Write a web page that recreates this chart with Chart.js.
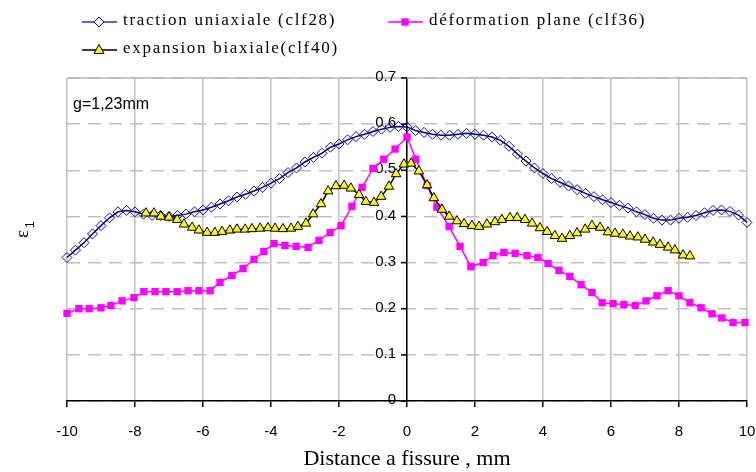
<!DOCTYPE html>
<html>
<head>
<meta charset="utf-8">
<script src="https://cdn.jsdelivr.net/npm/chart.js@4.4.0/dist/chart.umd.min.js"></script>
<style>
    html, body { margin: 0; padding: 0; background: #ffffff; }
    #wrap { width: 756px; height: 472px; }
</style>
</head>
<body>
<div id="wrap"><canvas id="strainChart" width="756" height="472"></canvas></div>
<script>
// Values (distance to crack in mm, major strain eps1)

// traction uniaxiale (clf28)
const tractionX = [-10, -9.75, -9.5, -9.25, -9, -8.75, -8.5, -8.25, -8, -7.75,
    -7.5, -7.25, -7, -6.75, -6.5, -6.25, -6, -5.75, -5.5, -5.25,
    -5, -4.75, -4.5, -4.25, -4, -3.75, -3.5, -3.25, -3, -2.75,
    -2.5, -2.25, -2, -1.75, -1.5, -1.25, -1, -0.75, -0.5, -0.25,
    0, 0.25, 0.5, 0.75, 1, 1.25, 1.5, 1.75, 2, 2.25,
    2.5, 2.75, 3, 3.25, 3.5, 3.75, 4, 4.25, 4.5, 4.75,
    5, 5.25, 5.5, 5.75, 6, 6.25, 6.5, 6.75, 7, 7.25,
    7.5, 7.75, 8, 8.25, 8.5, 8.75, 9, 9.25, 9.5, 9.75,
    10];
const tractionY = [0.311, 0.327, 0.343, 0.362, 0.38, 0.397, 0.41, 0.413, 0.41, 0.405,
    0.402, 0.402, 0.4, 0.402, 0.405, 0.41, 0.414, 0.42, 0.427, 0.434,
    0.442, 0.448, 0.455, 0.463, 0.472, 0.482, 0.495, 0.505, 0.518, 0.528,
    0.537, 0.55, 0.557, 0.566, 0.573, 0.578, 0.584, 0.589, 0.593, 0.595,
    0.594, 0.586, 0.582, 0.578, 0.576, 0.576, 0.578, 0.58, 0.578, 0.576,
    0.572, 0.565, 0.552, 0.535, 0.52, 0.505, 0.493, 0.482, 0.474, 0.466,
    0.458, 0.45, 0.443, 0.436, 0.43, 0.424, 0.418, 0.41, 0.404, 0.396,
    0.392, 0.392, 0.396, 0.398, 0.402, 0.408, 0.413, 0.414, 0.411, 0.403,
    0.387];

// déformation plane (clf36)
const planeX = [-10, -9.65, -9.35, -9, -8.71, -8.38, -8.03, -7.74, -7.41, -7.09,
    -6.76, -6.44, -6.12, -5.79, -5.5, -5.15, -4.82, -4.5, -4.21, -3.91,
    -3.59, -3.26, -2.91, -2.59, -2.26, -1.94, -1.62, -1.32, -1, -0.68,
    -0.35, 0, 0.26, 0.59, 0.88, 1.24, 1.56, 1.88, 2.24, 2.53,
    2.85, 3.18, 3.53, 3.85, 4.15, 4.47, 4.79, 5.12, 5.44, 5.74,
    6.06, 6.38, 6.71, 7.03, 7.35, 7.68, 8, 8.32, 8.65, 8.97,
    9.26, 9.59, 9.94];
const planeY = [0.19, 0.2, 0.2, 0.202, 0.207, 0.217, 0.224, 0.237, 0.237, 0.237,
    0.237, 0.239, 0.239, 0.239, 0.257, 0.272, 0.287, 0.307, 0.324, 0.341,
    0.337, 0.335, 0.333, 0.348, 0.365, 0.38, 0.422, 0.463, 0.504, 0.524,
    0.546, 0.572, 0.524, 0.467, 0.42, 0.378, 0.335, 0.291, 0.3, 0.315,
    0.322, 0.32, 0.315, 0.311, 0.298, 0.283, 0.27, 0.252, 0.235, 0.213,
    0.211, 0.209, 0.207, 0.217, 0.228, 0.239, 0.228, 0.213, 0.202, 0.189,
    0.18, 0.17, 0.17];

// expansion biaxiale (clf40)
const biaxialX = [-7.68, -7.44, -7.24, -7, -6.76, -6.56, -6.32, -6.12, -5.88, -5.65,
    -5.44, -5.21, -5, -4.76, -4.56, -4.32, -4.09, -3.88, -3.65, -3.41,
    -3.21, -2.97, -2.76, -2.53, -2.32, -2.09, -1.85, -1.65, -1.41, -1.21,
    -0.97, -0.76, -0.53, -0.32, -0.09, 0.12, 0.35, 0.59, 0.79, 1.03,
    1.24, 1.47, 1.68, 1.91, 2.12, 2.35, 2.59, 2.79, 3.03, 3.24,
    3.47, 3.68, 3.91, 4.12, 4.35, 4.56, 4.79, 5, 5.24, 5.44,
    5.68, 5.91, 6.12, 6.35, 6.56, 6.79, 7, 7.24, 7.44, 7.68,
    7.88, 8.12, 8.32];
const biaxialY = [0.407, 0.407, 0.4, 0.398, 0.393, 0.383, 0.376, 0.37, 0.365, 0.365,
    0.367, 0.37, 0.372, 0.372, 0.373, 0.374, 0.375, 0.374, 0.373, 0.374,
    0.378, 0.385, 0.405, 0.427, 0.455, 0.466, 0.467, 0.461, 0.447, 0.432,
    0.43, 0.443, 0.465, 0.492, 0.513, 0.515, 0.498, 0.468, 0.44, 0.415,
    0.4, 0.39, 0.384, 0.38, 0.378, 0.383, 0.388, 0.393, 0.397, 0.397,
    0.393, 0.385, 0.375, 0.367, 0.358, 0.352, 0.358, 0.364, 0.372, 0.38,
    0.376, 0.366, 0.363, 0.361, 0.357, 0.355, 0.35, 0.344, 0.339, 0.333,
    0.327, 0.316, 0.314];

const seriesNames = ['traction uniaxiale (clf28)', 'déformation plane (clf36)', 'expansion biaxiale(clf40)'];
const xTickLabels = ['-10', '-8', '-6', '-4', '-2', '0', '2', '4', '6', '8', '10'];
const yTickLabels = ['0', '0.1', '0.2', '0.3', '0.4', '0.5', '0.6', '0.7'];
const xTitle = 'Distance a fissure , mm';
const gapNote = 'g=1,23mm';

function toPoints(xs, ys) {
    return xs.map((x, i) => ({ x: x, y: ys[i] }));
}

// marker shapes for the hand-drawn legend
function drawMarker(ctx, style, x, y) {
    ctx.beginPath();
    if (style === 'rectRot') {
        ctx.moveTo(x - 5, y); ctx.lineTo(x, y - 5); ctx.lineTo(x + 5, y); ctx.lineTo(x, y + 5);
        ctx.closePath();
        ctx.fillStyle = '#ffffff';
        ctx.fill();
        ctx.strokeStyle = '#000080';
        ctx.lineWidth = 1;
        ctx.stroke();
    } else if (style === 'rect') {
        ctx.fillStyle = '#ff00ff';
        ctx.fillRect(x - 3.7, y - 3.7, 7.4, 7.4);
    } else {
        ctx.moveTo(x, y - 5.5); ctx.lineTo(x + 5, y + 3.5); ctx.lineTo(x - 5, y + 3.5);
        ctx.closePath();
        ctx.fillStyle = '#ffff00';
        ctx.fill();
        ctx.strokeStyle = '#000000';
        ctx.lineWidth = 1;
        ctx.stroke();
    }
}

const legendLayout = [
    { name: 0, x: 82, y: 22, line: '#3030c0', marker: 'rectRot' },
    { name: 1, x: 388, y: 22, line: '#ff00ff', marker: 'rect' },
    { name: 2, x: 82, y: 50, line: '#000000', marker: 'triangle' }
];

const extras = {
    id: 'extras',
    beforeDatasetsDraw(chart) {
        const { ctx, chartArea } = chart;
        const xScale = chart.scales.x;
        const yScale = chart.scales.y;
        const axisX = Math.round(xScale.getPixelForValue(0));
        ctx.save();

        // solid frame line along the top of the plot area
        ctx.strokeStyle = '#b8b8b8';
        ctx.lineWidth = 1.5;
        ctx.beginPath();
        ctx.moveTo(chartArea.left, chartArea.top);
        ctx.lineTo(chartArea.right, chartArea.top);
        ctx.stroke();

        // y axis sits at x = 0: tick marks and labels on its left side
        ctx.strokeStyle = '#000000';
        ctx.lineWidth = 1.5;
        ctx.fillStyle = '#000000';
        ctx.font = "15px 'Liberation Sans'";
        ctx.textAlign = 'right';
        ctx.textBaseline = 'middle';
        yScale.ticks.forEach((tick, i) => {
            const py = yScale.getPixelForValue(tick.value);
            ctx.beginPath();
            ctx.moveTo(axisX - 6, py);
            ctx.lineTo(axisX, py);
            ctx.stroke();
            ctx.fillText(yTickLabels[i], axisX - 11, py - 1);
        });
        ctx.restore();
    },
    afterDraw(chart) {
        const ctx = chart.ctx;
        ctx.save();

        // legend
        legendLayout.forEach(item => {
            ctx.strokeStyle = item.line;
            ctx.lineWidth = 1.5;
            ctx.beginPath();
            ctx.moveTo(item.x, item.y);
            ctx.lineTo(item.x + 35, item.y);
            ctx.stroke();
            drawMarker(ctx, item.marker, item.x + 17, item.y);
            ctx.fillStyle = '#000000';
            ctx.font = "17px 'Liberation Serif'";
            ctx.textBaseline = 'middle';
            ctx.textAlign = 'left';
            if ('letterSpacing' in ctx) ctx.letterSpacing = '1.7px';
            ctx.fillText(seriesNames[item.name], item.x + 41, item.y - 1);
            if ('letterSpacing' in ctx) ctx.letterSpacing = '0px';
        });

        // gauge note
        ctx.font = "16px 'Liberation Sans'";
        ctx.fillStyle = '#000000';
        ctx.textBaseline = 'middle';
        ctx.fillText(gapNote, 73, 105);

        // y title: epsilon with subscript 1, rotated
        ctx.translate(28, 238);
        ctx.rotate(-Math.PI / 2);
        ctx.textAlign = 'left';
        ctx.textBaseline = 'alphabetic';
        ctx.font = "19px 'Liberation Serif'";
        ctx.fillText('ε', 0, 0);
        ctx.font = "12px 'Liberation Sans'";
        ctx.fillText('1', 10, 6);
        ctx.restore();
    }
};

new Chart(document.getElementById('strainChart'), {
    type: 'line',
    data: {
        datasets: [
            {
                label: seriesNames[0],
                data: toPoints(tractionX, tractionY),
                borderColor: '#000080',
                borderWidth: 1.5,
                pointStyle: 'rectRot',
                pointRadius: 5,
                pointBorderWidth: 1,
                pointBorderColor: '#1010a0',
                pointBackgroundColor: 'rgba(255, 255, 255, 0)',
                tension: 0,
                clip: false,
                order: 3
            },
            {
                label: seriesNames[1],
                data: toPoints(planeX, planeY),
                borderColor: '#ff00ff',
                borderWidth: 1.5,
                pointStyle: 'rect',
                pointRadius: 5.2,
                pointBorderWidth: 0,
                pointBackgroundColor: '#ff00ff',
                tension: 0,
                clip: false,
                order: 2
            },
            {
                label: seriesNames[2],
                data: toPoints(biaxialX, biaxialY),
                borderColor: '#000000',
                borderWidth: 1.5,
                pointStyle: 'triangle',
                pointRadius: 5.5,
                pointBorderWidth: 1,
                pointBorderColor: '#000000',
                pointBackgroundColor: '#ffff00',
                tension: 0,
                clip: false,
                order: 1
            }
        ]
    },
    options: {
        responsive: false,
        devicePixelRatio: 1,
        animation: false,
        layout: {
            padding: { top: 78, left: 67, right: 9, bottom: 0 }
        },
        plugins: {
            legend: { display: false },
            tooltip: { enabled: false }
        },
        scales: {
            x: {
                type: 'linear',
                min: -10,
                max: 10,
                afterFit: function (scale) {
                    // fixed band below the plot; the tick padding should not eat into the sides
                    scale.height = 71;
                    scale.paddingLeft = 9;
                    scale.paddingRight = 9;
                },
                ticks: {
                    stepSize: 2,
                    padding: 16,
                    color: '#000000',
                    maxRotation: 0,
                    font: { family: "'Liberation Sans'", size: 15 },
                    callback: function (value, index) { return xTickLabels[index]; }
                },
                grid: {
                    color: '#c0c0c0',
                    lineWidth: 1.5,
                    tickColor: '#000000',
                    tickLength: 6
                },
                border: { display: true, color: '#000000', width: 1.5 },
                title: {
                    display: true,
                    text: xTitle,
                    color: '#000000',
                    padding: { top: 0, bottom: 0 },
                    font: { family: "'Liberation Serif'", size: 22 }
                }
            },
            y: {
                type: 'linear',
                position: { x: 0 },
                min: 0,
                max: 0.7,
                afterFit: function (scale) { scale.width = 0; },
                ticks: {
                    stepSize: 0.1,
                    display: false
                },
                grid: {
                    color: '#c0c0c0',
                    lineWidth: 1.5,
                    drawTicks: false
                },
                border: { display: true, color: '#000000', width: 1.5, dash: [13, 8] }
            }
        }
    },
    plugins: [extras]
});
</script>
</body>
</html>
